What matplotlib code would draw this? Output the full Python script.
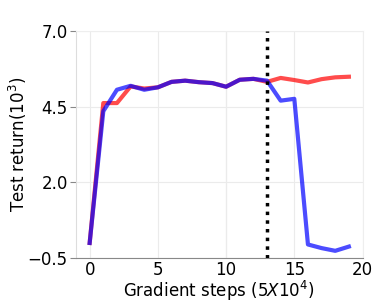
import matplotlib
matplotlib.use("Agg")
import matplotlib.pyplot as plt

steps = list(range(20))
red_vals = [0.0, 4.62, 4.62, 5.17, 5.10, 5.14, 5.32, 5.36, 5.31, 5.28, 5.16, 5.39, 5.42, 5.32, 5.45, 5.38, 5.30, 5.41, 5.47, 5.49]
blue_vals = [0.0, 4.35, 5.06, 5.19, 5.06, 5.14, 5.32, 5.36, 5.31, 5.28, 5.16, 5.39, 5.42, 5.36, 4.70, 4.76, -0.05, -0.17, -0.26, -0.12]
yticks = [-0.5, 2.0, 4.5, 7.0]
xticks = [0, 5, 10, 15, 20]
cutoff = 13

fig = plt.figure(figsize=(3.82, 3.04), dpi=100)
ax = fig.add_axes([0.199, 0.151, 0.750, 0.747])

ax.grid(True, color="#ebebeb", linewidth=0.8)
ax.axvline(10, color="#cccccc", linewidth=0.8, zorder=1)
ax.plot(steps, red_vals, color="red", alpha=0.7, linewidth=3, zorder=3)
ax.plot(steps, blue_vals, color="blue", alpha=0.7, linewidth=3, zorder=4)
ax.axvline(cutoff, color="black", linestyle=(0, (1, 1.5)), linewidth=2.5, zorder=5)

ax.set_xlim(-1, 20)
ax.set_ylim(-0.5, 7.0)
ax.set_xticks(xticks)
ax.set_yticks(yticks)
ax.set_yticklabels(["\u22120.5", "2.0", "4.5", "7.0"])
ax.tick_params(labelsize=12, length=0, pad=2)
ax.tick_params(axis="y", length=4, color="#888888")

for s in ["top", "right"]:
    ax.spines[s].set_color("#eeeeee")
ax.spines["left"].set_color("#dddddd")
ax.spines["bottom"].set_color("#888888")

ax.set_xlabel("Gradient steps ($5X10^4$)", fontsize=12, labelpad=0)
ax.set_ylabel("Test return($10^3$)", fontsize=12, labelpad=-1)

fig.savefig("out.png", dpi=100)
